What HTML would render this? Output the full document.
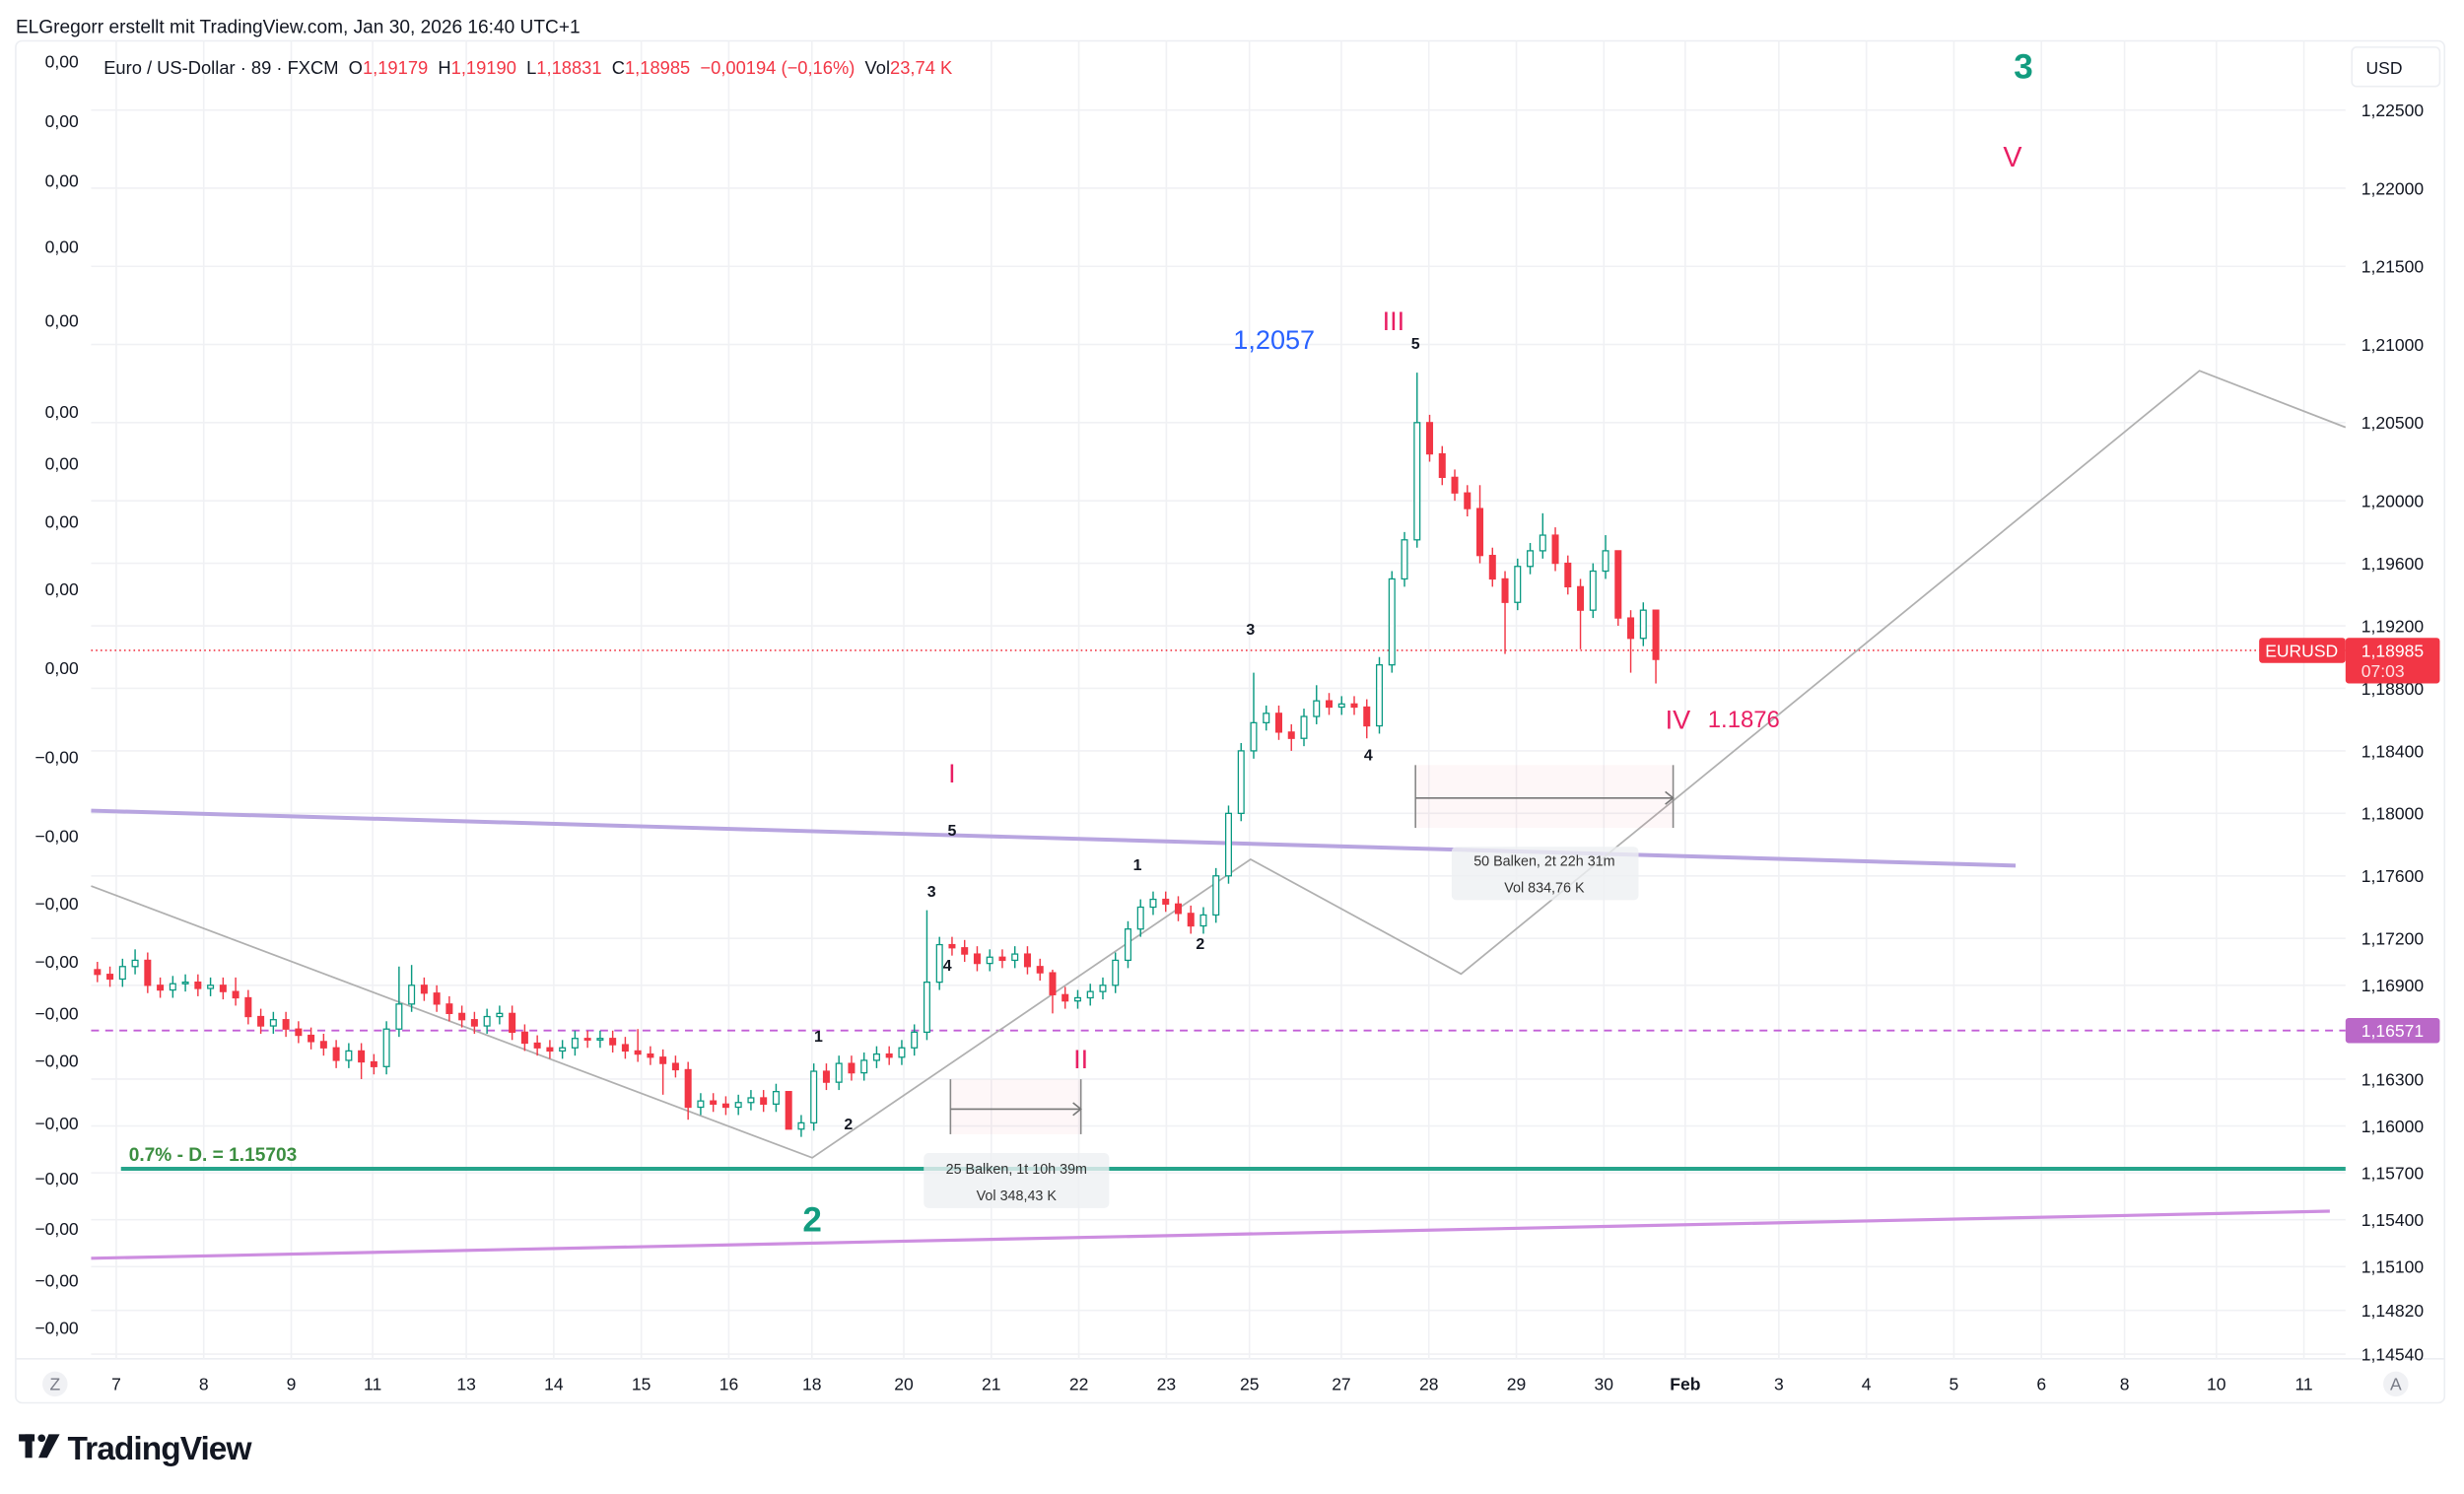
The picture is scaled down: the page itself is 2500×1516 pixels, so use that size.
<!DOCTYPE html>
<html><head><meta charset="utf-8"><style>
html,body{margin:0;padding:0;background:#fff;}
svg{display:block;font-family:"Liberation Sans",sans-serif;}
</style></head><body>
<svg id="chart" width="2500" height="1516" viewBox="0 0 1568.4 951" xmlns="http://www.w3.org/2000/svg">
<rect x="0" y="0" width="1568.4" height="951" fill="#fff"/>
<text x="10" y="21" font-size="12" fill="#131722">ELGregorr erstellt mit TradingView.com, Jan 30, 2026 16:40 UTC+1</text>
<rect x="10" y="26" width="1546" height="867" rx="4" fill="none" stroke="#eceef2"/>
<line x1="10" y1="865" x2="1556" y2="865" stroke="#eceef2"/>
<g id="grid"></g>
<g id="yaxis"></g>
<g id="leftaxis"></g>
<g id="xaxis"></g>

<line x1="58" y1="414" x2="1493" y2="414" stroke="#f23645" stroke-width="1" stroke-dasharray="1,2"/>
<line x1="58" y1="656" x2="1493" y2="656" stroke="#c25fd6" stroke-width="1.2" stroke-dasharray="5,4"/>
<line x1="58" y1="516" x2="1283" y2="551" stroke="#b8a5e0" stroke-width="2.5"/>
<line x1="58" y1="801" x2="1483" y2="771" stroke="#cd8ee0" stroke-width="2"/>
<line x1="77" y1="744" x2="1493" y2="744" stroke="#26a48b" stroke-width="2.5"/>
<text x="82" y="739" font-size="12" font-weight="bold" fill="#3b8e40">0.7% - D. = 1.15703</text>
<polyline points="58,564 517,737 796,547 930,620 1400,236 1493,272" fill="none" stroke="#b0b0b0" stroke-width="1.1"/>

<g>
<rect x="605" y="687" width="83" height="35" fill="#f23645" fill-opacity="0.04"/>
<line x1="605" y1="687" x2="605" y2="722" stroke="#888"/>
<line x1="688" y1="687" x2="688" y2="722" stroke="#888"/>
<line x1="605" y1="706" x2="688" y2="706" stroke="#777"/>
<polyline points="683,702 688,706 683,710" fill="none" stroke="#777"/>
<rect x="588" y="734" width="118" height="35" rx="3" fill="#eef0f2" fill-opacity="0.8"/>
<text x="647" y="747" font-size="9" text-anchor="middle" fill="#333">25 Balken, 1t 10h 39m</text>
<text x="647" y="764" font-size="9" text-anchor="middle" fill="#333">Vol 348,43 K</text>
</g>
<g>
<rect x="901" y="487" width="164" height="40" fill="#f23645" fill-opacity="0.04"/>
<line x1="901" y1="487" x2="901" y2="527" stroke="#888"/>
<line x1="1065" y1="487" x2="1065" y2="527" stroke="#888"/>
<line x1="901" y1="508" x2="1065" y2="508" stroke="#777"/>
<polyline points="1060,504 1065,508 1060,512" fill="none" stroke="#777"/>
<rect x="924" y="539" width="119" height="34" rx="3" fill="#eef0f2" fill-opacity="0.8"/>
<text x="983" y="551" font-size="9" text-anchor="middle" fill="#333">50 Balken, 2t 22h 31m</text>
<text x="983" y="568" font-size="9" text-anchor="middle" fill="#333">Vol 834,76 K</text>
</g>

<g id="candles"></g>

<g text-anchor="middle">
<text x="1288" y="50" font-size="22" font-weight="bold" fill="#129c7f">3</text>
<text x="1281" y="106" font-size="18" fill="#e91e63">V</text>
<text x="811" y="222" font-size="17" fill="#2962ff">1,2057</text>
<text x="887" y="210" font-size="17" fill="#e91e63">III</text>
<text x="901" y="222" font-size="10" font-weight="bold" fill="#131722">5</text>
<text x="796" y="404" font-size="10" font-weight="bold" fill="#131722">3</text>
<text x="871" y="484" font-size="10" font-weight="bold" fill="#131722">4</text>
<text x="1068" y="464" font-size="17" fill="#e91e63">IV</text>
<text x="1110" y="463" font-size="15" fill="#e91e63">1.1876</text>
<text x="606" y="498" font-size="17" fill="#e91e63">I</text>
<text x="606" y="532" font-size="10" font-weight="bold" fill="#131722">5</text>
<text x="593" y="571" font-size="10" font-weight="bold" fill="#131722">3</text>
<text x="603" y="618" font-size="10" font-weight="bold" fill="#131722">4</text>
<text x="724" y="554" font-size="10" font-weight="bold" fill="#131722">1</text>
<text x="764" y="604" font-size="10" font-weight="bold" fill="#131722">2</text>
<text x="688" y="680" font-size="17" fill="#e91e63">II</text>
<text x="521" y="663" font-size="10" font-weight="bold" fill="#131722">1</text>
<text x="540" y="719" font-size="10" font-weight="bold" fill="#131722">2</text>
<text x="517" y="784" font-size="22" font-weight="bold" fill="#129c7f">2</text>
</g>

<text x="66" y="47" font-size="11.5" fill="#131722">Euro / US-Dollar · 89 · FXCM&#160;&#160;O<tspan fill="#f23645">1,19179</tspan>&#160;&#160;H<tspan fill="#f23645">1,19190</tspan>&#160;&#160;L<tspan fill="#f23645">1,18831</tspan>&#160;&#160;C<tspan fill="#f23645">1,18985&#160;&#160;−0,00194 (−0,16%)</tspan>&#160;&#160;Vol<tspan fill="#f23645">23,74 K</tspan></text>

<g>
<rect x="1497" y="30" width="56" height="25" rx="3" fill="#fff" stroke="#eceef2"/>
<text x="1506" y="47" font-size="11" fill="#131722">USD</text>
</g>
<g>
<rect x="1438" y="406" width="55" height="16" rx="2" fill="#f23645"/>
<text x="1465" y="418" font-size="11" text-anchor="middle" fill="#fff">EURUSD</text>
</g>
<g>
<rect x="1493" y="406" width="60" height="29" rx="2" fill="#f23645"/>
<text x="1503" y="418" font-size="11" fill="#fff">1,18985</text>
<text x="1503" y="431" font-size="11" fill="#fde0e2">07:03</text>
</g>
<g>
<rect x="1493" y="648" width="60" height="16" rx="2" fill="#ba68c8"/>
<text x="1503" y="660" font-size="11" fill="#fff">1,16571</text>
</g>

<g>
<rect x="12" y="913" width="10" height="4.5" fill="#131722"/>
<rect x="16" y="913" width="4.5" height="15" fill="#131722"/>
<circle cx="26.5" cy="915.5" r="2.4" fill="#131722"/>
<polygon points="31,913 38,913 30,928 24.5,928" fill="#131722"/>
<text x="43" y="929" font-size="21" font-weight="bold" fill="#131722" letter-spacing="-0.6">TradingView</text>
</g>
</svg>
<script>
// ---- data ----
const closes = [
1.1697,1.1694,1.1702,1.1706,1.1690,
1.1687,1.1691,1.1692,1.1688,1.1690,
1.1686,1.1682,1.1670,1.1664,1.1668,
1.1662,1.1658,1.1654,1.1650,1.1642,
1.1648,1.1641,1.1638,1.1662,1.1678,
1.1690,1.1685,1.1678,1.1672,1.1668,
1.1664,1.1670,1.1672,1.1660,1.1653,
1.1650,1.1648,1.1650,1.1656,1.1655,
1.1656,1.1652,1.1648,1.1646,1.1644,
1.1640,1.1636,1.1612,1.1616,1.1614,
1.1612,1.1615,1.1618,1.1614,1.1622,
1.1598,1.1602,1.1635,1.1628,1.1640,
1.1634,1.1642,1.1646,1.1644,1.1650,
1.1660,1.1692,1.1716,1.1714,1.1710,
1.1704,1.1708,1.1706,1.1710,1.1702,
1.1698,1.1684,1.1680,1.1682,1.1686,
1.1690,1.1706,1.1726,1.1740,1.1745,
1.1742,1.1736,1.1728,1.1735,1.1760,
1.1800,1.1840,1.1858,1.1864,1.1852,
1.1848,1.1862,1.1872,1.1868,1.1870,
1.1868,1.1856,1.1895,1.1950,1.1975,
1.2050,1.2030,1.2015,1.2005,1.1995,
1.1965,1.1950,1.1935,1.1958,1.1968,
1.1978,1.1960,1.1945,1.1930,1.1955,
1.1968,1.1925,1.1912,1.1930,1.18985];
const firstOpen = 1.1700;
const wickHighs = [[3,1.1713],[11,1.1695],[24,1.1702],[25,1.1703],[43,1.1662],[55,1.1583],[66,1.1738],[76,1.1700],[92,1.1890],[97,1.1882],[105,1.2082],[110,1.2010],[115,1.1992],[120,1.1978],[121,1.1950],[124,1.1919]];
const wickLows = [[21,1.1630],[45,1.1620],[47,1.1604],[55,1.1583],[76,1.1672],[95,1.1840],[101,1.1848],[112,1.1902],[118,1.1905],[122,1.1890],[124,1.18831]];
const priceTicks = [1.225,1.22,1.215,1.21,1.205,1.2,1.196,1.192,1.188,1.184,1.18,1.176,1.172,1.169,1.163,1.16,1.157,1.154,1.151,1.1482,1.1454];
const priceTickLabels = ["1,22500","1,22000","1,21500","1,21000","1,20500","1,20000","1,19600","1,19200","1,18800","1,18400","1,18000","1,17600","1,17200","1,16900","1,16300","1,16000","1,15700","1,15400","1,15100","1,14820","1,14540"];
const dateLabels = ["Z","7","8","9","11","13","14","15","16","18","20","21","22","23","25","27","28","29","30","Feb","3","4","5","6","8","10","11","A"];
const dateSlots = [-0.7,0,1,2,2.93,4,5,6,7,7.95,9,10,11,12,12.95,14,15,16,17,17.93,19,20,21,22,22.95,24,25,26.05];
const leftLabels = ["0,00","0,00","0,00","0,00","0,00","0,00","0,00","0,00","0,00","0,00","−0,00","−0,00","−0,00","−0,00","−0,00","−0,00","−0,00","−0,00","−0,00","−0,00","−0,00"];
const leftLabelY = [39,77,115,157,204,262,295,332,375,425,482,532,575,612,645,675,715,750,782,815,845];

// ---- scales ----
const NS='http://www.w3.org/2000/svg';
function yScale(p){return 70+(1.225-p)*9950;}
function xCandle(i){return 62+i*8;}
function xDate(s){return 74+s*55.7;}
function mk(tag,attrs,parent){const e=document.createElementNS(NS,tag);for(const k in attrs)e.setAttribute(k,attrs[k]);parent.appendChild(e);return e;}

const grid=document.getElementById('grid');
const yaxis=document.getElementById('yaxis');
priceTicks.forEach((p,i)=>{
  const y=yScale(p);
  const gl=mk('line',{x1:58,x2:1493,y1:y,y2:y,stroke:'#f0f1f4'},grid);
  
  
  const t=mk('text',{x:1503,y:y+4,'font-size':11,fill:'#131722'},yaxis);
  t.textContent=priceTickLabels[i];
  
  
});
const xaxis=document.getElementById('xaxis');
dateLabels.forEach((d,i)=>{
  const x=xDate(dateSlots[i]);
  if(d!=="Z"&&d!=="A"){
    const gl=mk('line',{x1:x,x2:x,y1:26,y2:865,stroke:'#f0f1f4'},grid);
    
    
  } else {
    const c=mk('circle',{cx:x,cy:881,r:8,fill:'#f0f1f4'},xaxis);
    
    
  }
  const t=mk('text',{x:x,y:885,'font-size':11,'text-anchor':'middle',fill:(d==="Z"||d==="A")?'#787b86':'#131722','font-weight':d==="Feb"?'bold':'normal'},xaxis);
  t.textContent=d;
  
  
});
const leftaxis=document.getElementById('leftaxis');
leftLabels.forEach((l,i)=>{
  const t=mk('text',{x:50,y:leftLabelY[i]+4,'font-size':11,'text-anchor':'end',fill:'#131722'},leftaxis);
  t.textContent=l;
  
  
});

const cg=document.getElementById('candles');
const hiMap={},loMap={};
wickHighs.forEach(([i,v])=>hiMap[i]=v);
wickLows.forEach(([i,v])=>loMap[i]=v);
closes.forEach((c,i)=>{
  const o=i===0?firstOpen:closes[i-1];
  const up=c>=o;
  const col=up?'#089981':'#f23645';
  const hi=hiMap[i]!==undefined?hiMap[i]:Math.max(o,c)+0.0005;
  const lo=loMap[i]!==undefined?loMap[i]:Math.min(o,c)-0.0005;
  const x=xCandle(i);
  const w=mk('line',{x1:x,x2:x,y1:yScale(hi),y2:yScale(lo),stroke:col,'stroke-width':0.9},cg);
  
  
  const top=yScale(Math.max(o,c)),bot=yScale(Math.min(o,c));
  const b=mk('rect',{x:x-1.8,y:top,width:3.6,height:Math.max(1,bot-top),fill:up?'#ffffff':col,stroke:col,'stroke-width':0.8},cg);
  
  
});
</script>
</body></html>
